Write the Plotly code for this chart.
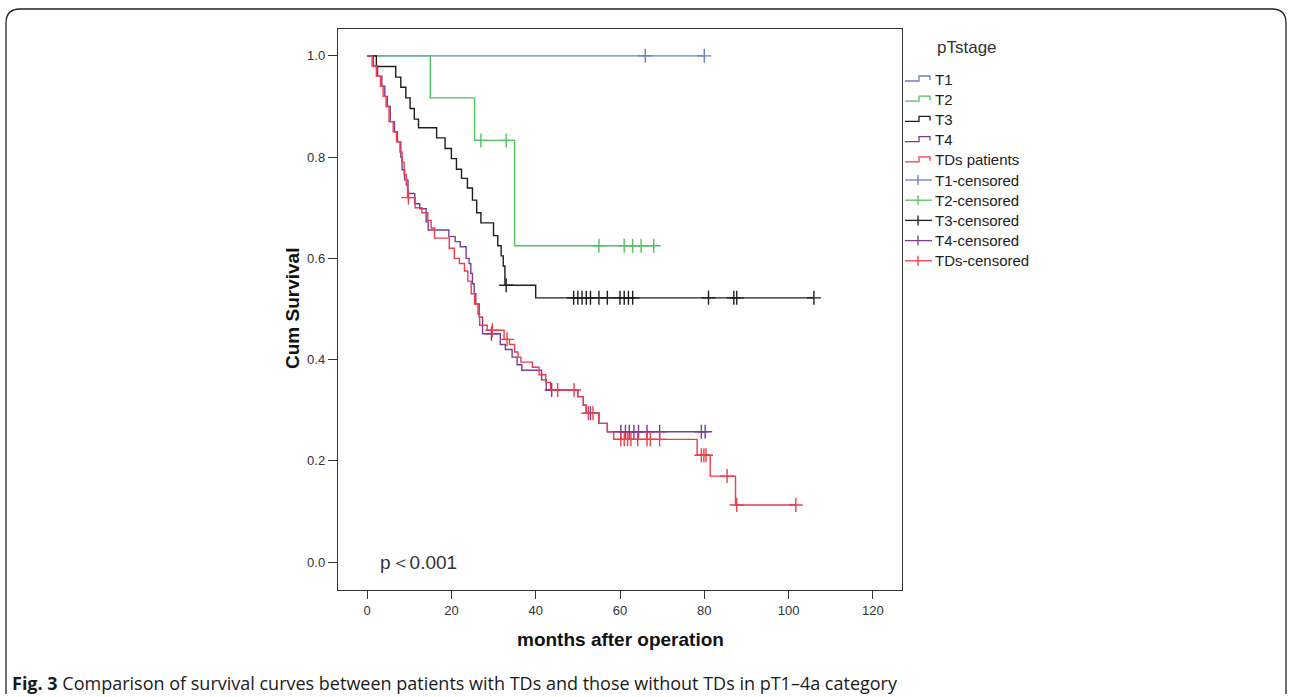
import plotly.graph_objects as go

# ---------------- data ----------------
t1_time = [0, 80]
t1_surv = [1.0, 1.0]
t1_cens = [66, 80]

t2_time = [0, 15, 25.5, 35, 68]
t2_surv = [1.0, 0.917, 0.833, 0.625, 0.625]
t2_cens = [27, 33, 55, 61, 63, 65, 68]

t3_time = [0, 2.2, 6.8, 8.0, 9.2, 10.2, 11.2, 12.2, 16.5, 18.5, 20.0, 21.2, 22.4, 23.8, 25, 26, 27,
           30, 31, 31.8, 32.3, 32.7, 40, 106]
t3_surv = [1.0, 0.979, 0.958, 0.938, 0.917, 0.896, 0.875, 0.858, 0.838, 0.817, 0.797, 0.776, 0.758,
           0.739, 0.715, 0.69, 0.67, 0.645, 0.625, 0.605, 0.585, 0.547, 0.522, 0.522]
t3_cens = [33, 49, 50, 51, 52, 53, 55, 57, 60, 61, 62, 63, 81, 87, 87.7, 106]

t4_time = [0, 1.5, 2.5, 3.5, 4.2, 4.8, 5.5, 6.5, 7.2, 8.0, 8.3, 8.9, 9.7, 11.3, 12.5, 14.0, 14.5,
           19.4, 20.9, 22.1, 23.5, 24.2, 24.6, 25.0, 25.4, 25.8, 26.6, 27.4, 31.6, 32.8, 34.4, 35.6,
           36.7, 41.4, 42.5, 50, 51.3, 52, 55, 57, 80.2]
t4_surv = [1.0, 0.98, 0.96, 0.94, 0.92, 0.90, 0.87, 0.85, 0.83, 0.80, 0.775, 0.755, 0.728, 0.708,
           0.698, 0.672, 0.656, 0.643, 0.633, 0.623, 0.60, 0.59, 0.57, 0.55, 0.53, 0.51, 0.484,
           0.451, 0.43, 0.42, 0.405, 0.39, 0.379, 0.36, 0.34, 0.327, 0.31, 0.294, 0.274, 0.2575,
           0.2575]
t4_cens = [29.5, 43.8, 53, 60.2, 61.3, 62.2, 63.3, 64.4, 66.4, 69.4, 79.3, 80.2]

td_time = [0, 1.2, 2.2, 3.2, 3.8, 4.5, 5.2, 6.2, 7.0, 7.8, 8.3, 8.8, 9.3, 9.6, 11.4, 13.0, 14.4,
           15.2, 16.0, 19.5, 20.7, 21.9, 23.1, 23.9, 24.7, 25.5, 26.3, 26.7, 28.5, 32.5, 33.8, 35.0,
           35.8, 36.5, 39.2, 40.8, 42.4, 43.5, 50, 51.3, 52, 55, 57, 58.5, 78.3, 81.4, 87.4, 101.7]
td_surv = [1.0, 0.98, 0.96, 0.94, 0.92, 0.90, 0.87, 0.85, 0.83, 0.81, 0.79, 0.765, 0.745, 0.72,
           0.70, 0.69, 0.675, 0.66, 0.64, 0.62, 0.60, 0.59, 0.575, 0.555, 0.53, 0.51, 0.49, 0.468,
           0.458, 0.44, 0.43, 0.415, 0.405, 0.395, 0.385, 0.37, 0.355, 0.34, 0.327, 0.31, 0.294,
           0.274, 0.2575, 0.2425, 0.211, 0.170, 0.113, 0.113]
td_cens = [9.8, 29.7, 33.2, 45.2, 49.1, 52.5, 53.6, 60.2, 61.0, 61.8, 62.6, 64.2, 66.4, 67.2, 69.4,
           79.3, 79.9, 80.4, 85.4, 87.7, 101.7]

group_names = ["T1", "T2", "T3", "T4", "TDs patients"]
censor_names = ["T1-censored", "T2-censored", "T3-censored", "T4-censored", "TDs-censored"]
x_ticks = [0, 20, 40, 60, 80, 100, 120]
y_ticks = [0.0, 0.2, 0.4, 0.6, 0.8, 1.0]

colors = ["#6b7fc6", "#55c060", "#1e1e1e", "#7a3d92", "#ee3d4b"]

series = [
    (t1_time, t1_surv, t1_cens),
    (t2_time, t2_surv, t2_cens),
    (t3_time, t3_surv, t3_cens),
    (t4_time, t4_surv, t4_cens),
    (td_time, td_surv, td_cens),
]


def surv_at(times, survs, t):
    val = survs[0]
    for ti, si in zip(times, survs):
        if ti <= t:
            val = si
    return val


# ---------------- geometry (pixels) ----------------
W, H = 1292, 697
L, R, T, B = 338, 902, 29, 590


def X(px):
    return (px - L) / (R - L)


def Y(py):
    return (B - py) / (B - T)


FONT = "Liberation Sans, Arial, sans-serif"

fig = go.Figure()

for (tt, ss, cc), col, nm in zip(series, colors, group_names):
    fig.add_trace(go.Scatter(x=tt, y=ss, mode="lines", line=dict(color=col, width=1.4, shape="hv"),
                             name=nm, showlegend=False, hoverinfo="skip"))

for (tt, ss, cc), col, nm in zip(series, colors, censor_names):
    fig.add_trace(go.Scatter(x=cc, y=[surv_at(tt, ss, c) for c in cc], mode="markers",
                             marker=dict(symbol="cross-thin", size=10, line=dict(color=col, width=1.4)),
                             name=nm, showlegend=False, hoverinfo="skip"))

shapes = []
annotations = []

# outer rounded frame
fl, ft, fr, fb, rr = 6, 9, 1286, 708, 14
shapes.append(dict(
    type="path", xref="paper", yref="paper", layer="below",
    path=(f"M {X(fl)},{Y(fb - rr)} L {X(fl)},{Y(ft + rr)} Q {X(fl)},{Y(ft)} {X(fl + rr)},{Y(ft)} "
          f"L {X(fr - rr)},{Y(ft)} Q {X(fr)},{Y(ft)} {X(fr)},{Y(ft + rr)} L {X(fr)},{Y(fb - rr)}"),
    line=dict(color="#222222", width=1.3)))

# legend
annotations.append(dict(x=X(935), y=Y(48), xref="paper", yref="paper", text="pTstage",
                        showarrow=False, xanchor="left", yanchor="middle",
                        font=dict(family=FONT, size=17, color="#333333")))
row0, dy = 79, 20.2
for i, (nm, col) in enumerate(zip(group_names, colors)):
    c = row0 + i * dy
    shapes.append(dict(type="path", xref="paper", yref="paper",
                       path=(f"M {X(905)},{Y(c + 2)} L {X(919)},{Y(c + 2)} L {X(919)},{Y(c - 3)} "
                             f"L {X(930)},{Y(c - 3)} L {X(930)},{Y(c + 1)}"),
                       line=dict(color=col, width=1.3)))
    annotations.append(dict(x=X(933), y=Y(c), xref="paper", yref="paper", text=nm, showarrow=False,
                            xanchor="left", yanchor="middle",
                            font=dict(family=FONT, size=15, color="#222222")))
for j, (nm, col) in enumerate(zip(censor_names, colors)):
    c = row0 + (j + 5) * dy
    shapes.append(dict(type="line", xref="paper", yref="paper", x0=X(905), x1=X(932), y0=Y(c), y1=Y(c),
                       line=dict(color=col, width=1.3)))
    shapes.append(dict(type="line", xref="paper", yref="paper", x0=X(918), x1=X(918), y0=Y(c - 5),
                       y1=Y(c + 5), line=dict(color=col, width=1.3)))
    annotations.append(dict(x=X(933), y=Y(c), xref="paper", yref="paper", text=nm, showarrow=False,
                            xanchor="left", yanchor="middle",
                            font=dict(family=FONT, size=15, color="#222222")))

# p-value
annotations.append(dict(x=2.5, y=0.0, xref="x", yref="y", text="p\uff1c0.001", showarrow=False,
                        xanchor="left", yanchor="middle",
                        font=dict(family=FONT, size=19, color="#333333")))

# axis titles
annotations.append(dict(x=X(620), y=Y(639), xref="paper", yref="paper",
                        text="<b>months after operation</b>", showarrow=False,
                        xanchor="center", yanchor="middle",
                        font=dict(family=FONT, size=19, color="#111111")))
annotations.append(dict(x=X(292), y=Y(309), xref="paper", yref="paper",
                        text="<b>Cum Survival</b>", showarrow=False, textangle=-90,
                        xanchor="center", yanchor="middle",
                        font=dict(family=FONT, size=19, color="#111111")))

# caption
annotations.append(dict(x=X(10), y=Y(683), xref="paper", yref="paper",
                        text="<b>Fig. 3</b> Comparison of survival curves between patients with TDs and "
                             "those without TDs in pT1\u20134a category",
                        showarrow=False, xanchor="left", yanchor="middle",
                        font=dict(family="Open Sans, Noto Sans, sans-serif", size=18, color="#1a1a1a")))

fig.update_layout(
    width=W, height=H,
    margin=dict(l=L, r=W - R, t=T, b=H - B, pad=0),
    paper_bgcolor="white", plot_bgcolor="white",
    showlegend=False,
    shapes=shapes, annotations=annotations,
    xaxis=dict(range=[-6.9, 126.9], tickvals=x_ticks, ticks="outside", ticklen=8, tickwidth=1.3,
               tickcolor="#333333", showline=True, mirror=True, linecolor="#333333", linewidth=1.4,
               showgrid=False, zeroline=False, fixedrange=True,
               tickfont=dict(family=FONT, size=13, color="#333333")),
    yaxis=dict(range=[-0.055, 1.053], tickvals=y_ticks, tickformat=".1f", ticks="outside",
               ticklen=9, tickwidth=1.3, tickcolor="#333333", showline=True, mirror=True,
               linecolor="#333333", linewidth=1.4, showgrid=False, zeroline=False, fixedrange=True,
               tickfont=dict(family=FONT, size=13, color="#333333")),
)

fig.write_html("out.html")
